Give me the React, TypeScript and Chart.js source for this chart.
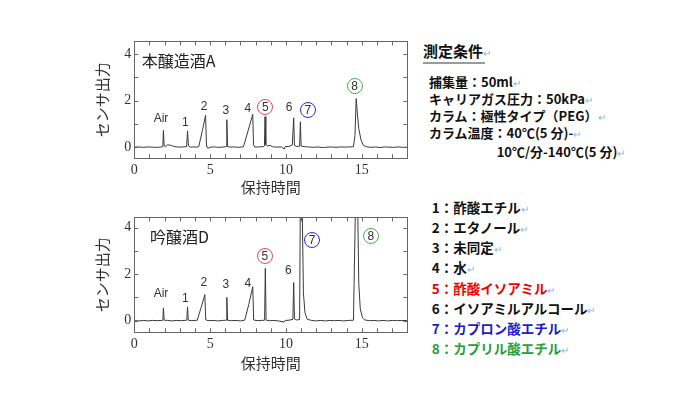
import { useEffect, useRef, useState } from "react";
import { Chart, registerables, type Plugin } from "chart.js";

Chart.register(...registerables);

const JP = '"Noto Sans CJK JP", "Noto Sans", sans-serif';

// 本醸造酒A : retention time (min) / sensor output
const timeA = [
  0, 0.3, 0.6, 0.9, 1.2, 1.5, 1.8, 1.88, 1.92, 1.97, 2.05, 2.2, 2.4, 2.6, 2.8, 3.0, 3.2, 3.45, 3.51, 3.57,
  3.7, 3.9, 4.1, 4.25, 4.5, 4.7, 4.76, 4.85, 5.0, 5.3, 5.6, 5.9, 6.05, 6.1, 6.15, 6.3, 6.6, 6.9, 7.2, 7.5,
  7.81, 7.86, 7.95, 8.2, 8.5, 8.58, 8.62, 8.67, 8.8, 8.95, 9.1, 9.4, 9.7, 9.88, 9.95, 10.2, 10.42, 10.51,
  10.56, 10.7, 10.9, 10.95, 11.0, 11.2, 11.5, 11.8, 12.1, 12.4, 12.7, 13.0, 13.3, 13.6, 13.9, 14.2, 14.45,
  14.55, 14.63, 14.7, 14.8, 14.95, 15.1, 15.3, 15.6, 15.9, 16.2, 16.5, 16.8, 17.1, 17.4, 17.7, 18,
];
const outA = [
  0, 0.01, -0.01, 0.01, 0, -0.01, 0.01, 0.02, 0.72, 0.05, 0.02, 0.1, 0.08, 0.03, 0.01, 0, 0.01, 0.02, 0.7, 0.05,
  0, 0.01, 0, 0.02, 0.75, 1.37, 0.05, -0.05, 0, 0.01, -0.01, 0.01, 0.02, 1.18, 0.03, 0, 0.01, -0.01, 0.02, 0.7,
  1.41, 0.1, 0, 0.01, 0.02, 0.05, 1.31, 0.1, 0.05, 0.08, 0.02, 0, 0.01, -0.08, 0.02, 0.03, 0.1, 1.26,
  0.08, 0.03, 0.04, 1.09, 0.05, 0.02, 0.01, -0.01, 0.01, -0.02, 0, 0.01, -0.01, 0.01, 0, 0.01, 0.02,
  0.5, 2.09, 1.5, 0.8, 0.3, 0.08, 0.02, -0.01, 0.01, -0.02, 0.01, 0, -0.01, 0.01, -0.01, 0,
];

// 吟醸酒D
const timeD = [
  0, 0.3, 0.6, 0.9, 1.2, 1.5, 1.8, 1.88, 1.92, 1.97, 2.2, 2.5, 2.8, 3.1, 3.46, 3.51, 3.56, 3.8, 4.15, 4.4,
  4.65, 4.71, 4.85, 5.2, 5.5, 5.8, 6.05, 6.1, 6.15, 6.4, 6.7, 7.0, 7.28, 7.55, 7.81, 7.87, 8.1, 8.4, 8.59,
  8.64, 8.69, 8.9, 9.2, 9.5, 9.88, 9.95, 10.2, 10.4, 10.46, 10.51, 10.56, 10.7, 10.9, 10.95, 11.01, 11.08,
  11.15, 11.25, 11.4, 11.7, 12, 12.3, 12.6, 12.9, 13.2, 13.5, 13.8, 14.1, 14.45, 14.57, 14.65, 14.74, 14.8,
  14.9, 15.05, 15.2, 15.5, 15.8, 16.1, 16.4, 16.7, 17.0, 17.3, 17.6, 18,
];
const outD = [
  0, -0.01, 0.01, -0.01, 0.01, 0, 0.01, 0.01, 0.55, 0.02, 0.01, -0.01, 0.01, 0, 0.02, 0.59, 0.02, 0, 0.02, 0.55,
  1.12, 0.04, 0, 0.01, -0.01, 0.01, 0.02, 1.0, 0.02, 0, 0.01, -0.01, 0.02, 0.7, 1.46, 0.03, 0, 0.01, 0.02,
  2.25, 0.02, 0, 0.01, -0.01, -0.06, 0.01, 0.02, 0.05, 0.2, 1.64, 0.08, 0.03, 0.05, 5.5, 9, 4.45,
  1.2, 0.35, 0.06, 0.01, -0.01, 0.01, -0.01, 0.01, 0, 0.01, -0.01, 0.01, 0.02, 4.5, 12, 4.45, 1.6,
  0.5, 0.12, 0.03, 0, 0.01, -0.01, 0.01, -0.01, 0.01, 0, 0.01, 0,
];

const xTicks = [0, 1, 2, 3, 4, 5, 6, 7, 8, 9, 10, 11, 12, 13, 14, 15, 16, 17, 18];
const xTickLabels = [0, 5, 10, 15];
const yTicks = [0, 1, 2, 3, 4];
const yTickLabels = [0, 2, 4];

interface PeakLabel {
  text: string;
  x: number;
  y: number;
  ring?: string;
}

const peaksA: PeakLabel[] = [
  { text: "Air", x: 1.76, y: 1.26 },
  { text: "1", x: 3.36, y: 1.09 },
  { text: "2", x: 4.6, y: 1.78 },
  { text: "3", x: 6.03, y: 1.61 },
  { text: "4", x: 7.48, y: 1.67 },
  { text: "5", x: 8.64, y: 1.72, ring: "#e5484d" },
  { text: "6", x: 10.2, y: 1.72 },
  { text: "7", x: 11.45, y: 1.61, ring: "#2a2ae0" },
  { text: "8", x: 14.52, y: 2.62, ring: "#4caf50" },
];

const peaksD: PeakLabel[] = [
  { text: "Air", x: 1.76, y: 1.19 },
  { text: "1", x: 3.36, y: 0.98 },
  { text: "2", x: 4.59, y: 1.67 },
  { text: "3", x: 6.03, y: 1.56 },
  { text: "4", x: 7.48, y: 1.64 },
  { text: "5", x: 8.6, y: 2.77, ring: "#e5484d" },
  { text: "6", x: 10.16, y: 2.18 },
  { text: "7", x: 11.73, y: 3.48, ring: "#2a2ae0" },
  { text: "8", x: 15.6, y: 3.64, ring: "#4caf50" },
];

const conditions = [
  "捕集量：50ml",
  "キャリアガス圧力：50kPa",
  "カラム：極性タイプ（PEG）",
  "カラム温度：40℃(5 分)-",
];
const conditionsCont = "10℃/分-140℃(5 分)";

const compounds = [
  "1：酢酸エチル",
  "2：エタノール",
  "3：未同定",
  "4：水",
  "5：酢酸イソアミル",
  "6：イソアミルアルコール",
  "7：カプロン酸エチル",
  "8：カプリル酸エチル",
];
const compoundColors = ["#111", "#111", "#111", "#111", "#f00000", "#111", "#1c1cc8", "#26a03a"];

// frame around the plot with inward ticks on all four sides
const framePlugin: Plugin = {
  id: "frame",
  afterDatasetsDraw(chart) {
    const { ctx, chartArea: a, scales } = chart;
    ctx.save();
    ctx.strokeStyle = "#666";
    ctx.lineWidth = 1;
    ctx.strokeRect(Math.round(a.left) + 0.5, Math.round(a.top) + 0.5, Math.round(a.right - a.left), Math.round(a.bottom - a.top));
    ctx.beginPath();
    for (const v of xTicks) {
      const px = Math.round(scales.x.getPixelForValue(v)) + 0.5;
      ctx.moveTo(px, a.bottom);
      ctx.lineTo(px, a.bottom - 4);
      ctx.moveTo(px, a.top);
      ctx.lineTo(px, a.top + 4);
    }
    for (const v of yTicks) {
      const py = Math.round(scales.y.getPixelForValue(v)) + 0.5;
      ctx.moveTo(a.left, py);
      ctx.lineTo(a.left + 4, py);
      ctx.moveTo(a.right, py);
      ctx.lineTo(a.right - 4, py);
    }
    ctx.stroke();
    ctx.restore();
  },
};

interface PanelProps {
  top: number;
  height: number;
  xAxisHeight: number;
  yMin: number;
  yMax: number;
  time: number[];
  out: number[];
  name: string;
  nameX: number;
  nameY: number;
  peaks: PeakLabel[];
}

interface Mark extends PeakLabel {
  left: number;
  top: number;
}

function Panel({ top, height, xAxisHeight, yMin, yMax, time, out, name, nameX, nameY, peaks }: PanelProps) {
  const canvasRef = useRef<HTMLCanvasElement>(null);
  const [marks, setMarks] = useState<Mark[]>([]);
  const [namePos, setNamePos] = useState<{ left: number; top: number } | null>(null);

  useEffect(() => {
    if (!canvasRef.current) return;
    const chart = new Chart(canvasRef.current, {
      type: "line",
      data: {
        datasets: [
          {
            data: time.map((t, i) => ({ x: t, y: out[i] })),
            borderColor: "#3a3a3a",
            borderWidth: 1,
            pointRadius: 0,
            tension: 0,
          },
        ],
      },
      options: {
        responsive: false,
        animation: false,
        events: [],
        layout: { padding: { top: 5.7, right: 12.7, left: 0, bottom: 0 } },
        plugins: { legend: { display: false }, tooltip: { enabled: false } },
        scales: {
          x: {
            type: "linear",
            min: 0,
            max: 18,
            grid: { display: false, drawTicks: false },
            border: { display: false },
            afterBuildTicks: (s) => {
              s.ticks = xTickLabels.map((value) => ({ value }));
            },
            ticks: {
              autoSkip: false,
              maxRotation: 0,
              padding: 4,
              color: "#333",
              font: { family: '"Liberation Serif", serif', size: 14 },
            },
            title: {
              display: true,
              text: "保持時間",
              color: "#333",
              padding: 0,
              font: { family: JP, size: 15 },
            },
            afterFit: (s) => {
              s.height = xAxisHeight;
            },
          },
          y: {
            min: yMin,
            max: yMax,
            grid: { display: false, drawTicks: false },
            border: { display: false },
            afterBuildTicks: (s) => {
              s.ticks = yTickLabels.map((value) => ({ value }));
            },
            ticks: {
              autoSkip: false,
              padding: 3,
              color: "#333",
              font: { family: '"Liberation Serif", serif', size: 14 },
              callback: (v) => String(v),
            },
            title: {
              display: true,
              text: "センサ出力",
              color: "#333",
              padding: { top: 3, bottom: 0 },
              font: { family: JP, size: 15 },
            },
            afterFit: (s) => {
              s.width = 44.3;
            },
          },
        },
      },
      plugins: [framePlugin],
    });

    const xs = chart.scales.x;
    const ys = chart.scales.y;
    setMarks(peaks.map((p) => ({ ...p, left: xs.getPixelForValue(p.x), top: ys.getPixelForValue(p.y) })));
    setNamePos({ left: xs.getPixelForValue(nameX), top: ys.getPixelForValue(nameY) });

    return () => {
      chart.destroy();
    };
  }, []);

  return (
    <div style={{ position: "absolute", left: 90, top, width: 330, height }}>
      <canvas ref={canvasRef} width={330} height={height} />
      {namePos && (
        <div
          style={{
            position: "absolute",
            left: namePos.left,
            top: namePos.top,
            transform: "translateY(-50%)",
            font: `16px ${JP}`,
            color: "#222",
            whiteSpace: "nowrap",
          }}
        >
          {name}
        </div>
      )}
      {marks.map((m) => (
        <div
          key={m.text}
          style={{
            position: "absolute",
            left: m.left,
            top: m.top,
            transform: "translate(-50%, -50%)",
            width: m.ring ? 16 : undefined,
            height: m.ring ? 16 : undefined,
            boxSizing: "border-box",
            border: m.ring ? `1px solid ${m.ring}` : undefined,
            borderRadius: "50%",
            display: "flex",
            alignItems: "center",
            justifyContent: "center",
            font: '12px "Liberation Sans", Arial, sans-serif',
            color: "#333",
            lineHeight: "14px",
          }}
        >
          {m.text}
        </div>
      ))}
    </div>
  );
}

const mark = <span style={{ color: "#8ab4e8", fontWeight: 400, fontSize: 10 }}>↵</span>;

export default function App() {
  return (
    <div
      style={{
        position: "absolute",
        left: 0,
        top: 0,
        width: 700,
        height: 400,
        background: "#fff",
        fontFamily: JP,
        overflow: "hidden",
      }}
    >
      <Panel
        top={30}
        height={166}
        xAxisHeight={37.7}
        yMin={-0.48}
        yMax={4.55}
        time={timeA}
        out={outA}
        name="本醸造酒A"
        nameX={0.49}
        nameY={3.76}
        peaks={peaksA}
      />
      <Panel
        top={206}
        height={166}
        xAxisHeight={39.7}
        yMin={-0.5}
        yMax={4.44}
        time={timeD}
        out={outD}
        name="吟醸酒D"
        nameX={1.03}
        nameY={3.62}
        peaks={peaksD}
      />

      <div
        style={{
          position: "absolute",
          left: 423,
          top: 41,
          height: 20,
          lineHeight: "20px",
          fontSize: 15,
          fontWeight: 700,
          color: "#111",
          whiteSpace: "nowrap",
        }}
      >
        測定条件{mark}
      </div>
      <div style={{ position: "absolute", left: 423, top: 62, width: 62, height: 2, background: "#9a9a9a" }} />

      {conditions.map((c, i) => (
        <div
          key={c}
          style={{
            position: "absolute",
            left: 429,
            top: [81.7, 99, 116, 133][i] - 9,
            lineHeight: "18px",
            fontSize: 13,
            fontWeight: 700,
            color: "#111",
            whiteSpace: "nowrap",
          }}
        >
          {c}
          {mark}
        </div>
      ))}
      <div
        style={{
          position: "absolute",
          left: 496.7,
          top: 152.3 - 9,
          lineHeight: "18px",
          fontSize: 13,
          fontWeight: 700,
          color: "#111",
          whiteSpace: "nowrap",
        }}
      >
        {conditionsCont}
        {mark}
      </div>

      {compounds.map((c, i) => (
        <div
          key={c}
          style={{
            position: "absolute",
            left: 431.7,
            top: 207.3 + i * 20.05 - 10,
            lineHeight: "20px",
            fontSize: 13.5,
            fontWeight: 700,
            color: compoundColors[i],
            whiteSpace: "nowrap",
          }}
        >
          {c}
          {mark}
        </div>
      ))}
    </div>
  );
}
